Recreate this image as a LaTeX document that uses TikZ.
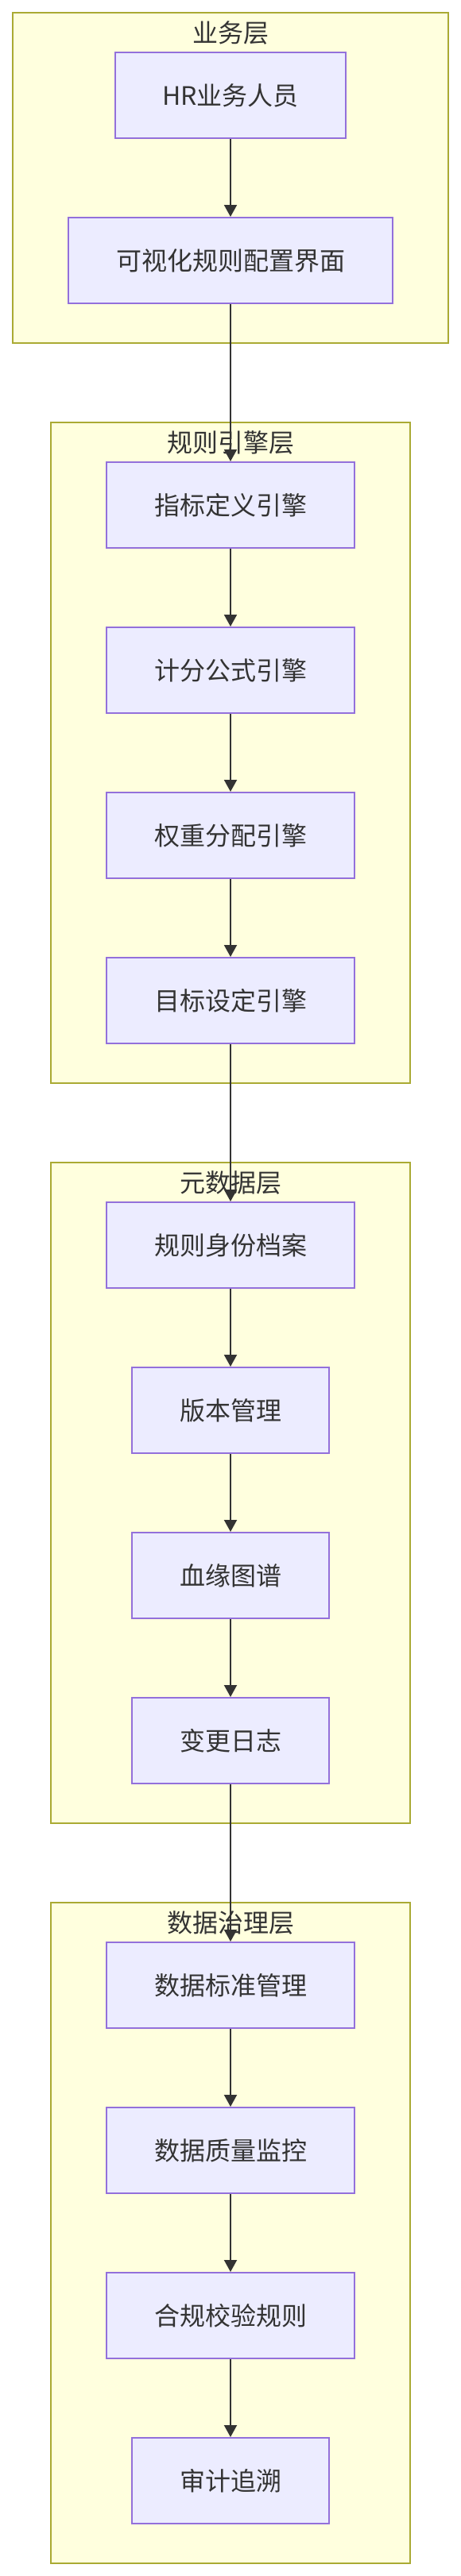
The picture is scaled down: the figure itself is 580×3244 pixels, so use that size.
\documentclass[tikz,border=0pt]{standalone}
\usepackage{fontspec}
\setmainfont{Noto Sans CJK SC}
\usetikzlibrary{arrows.meta}
\definecolor{nodefill}{HTML}{ECECFF}
\definecolor{nodeline}{HTML}{9370DB}
\definecolor{layerfill}{HTML}{FFFFDE}
\definecolor{layerline}{HTML}{AAAA33}
\definecolor{ink}{HTML}{333333}
\tikzset{
  layerbox/.style={draw=layerline, fill=layerfill, line width=2pt, inner sep=0pt, outer sep=0pt},
  stepbox/.style={draw=nodeline, fill=nodefill, line width=2pt, inner sep=0pt, outer sep=1pt,
    minimum height=108pt, text=ink, font=\fontsize{32pt}{38pt}\selectfont},
  layertitle/.style={text=ink, inner sep=0pt, font=\fontsize{32pt}{38pt}\selectfont},
  flow/.style={draw=ink, line width=2pt, -{Triangle[length=15pt,width=16pt]}},
}
\begin{document}
\begin{tikzpicture}[x=1pt,y=-1pt]
\useasboundingbox (0,0) rectangle (580,3244);
% layers
\node[layerbox, minimum width=548pt, minimum height=416pt] (L1) at (290,224) {};
\node[layerbox, minimum width=452pt, minimum height=832pt] (L2) at (290,948) {};
\node[layerbox, minimum width=452pt, minimum height=832pt] (L3) at (290,1880) {};
\node[layerbox, minimum width=452pt, minimum height=832pt] (L4) at (290,2812) {};
% titles
\node[layertitle] (T1) at (290,41) {业务层};
\node[layertitle] (T2) at (290,557) {规则引擎层};
\node[layertitle] (T3) at (290,1489) {元数据层};
\node[layertitle] (T4) at (290,2421) {数据治理层};
% business layer
\node[stepbox, minimum width=290pt] (a1) at (290,120) {HR业务人员};
\node[stepbox, minimum width=408pt] (a2) at (290,328) {可视化规则配置界面};
% rule engine layer
\node[stepbox, minimum width=312pt] (b1) at (290,636) {指标定义引擎};
\node[stepbox, minimum width=312pt] (b2) at (290,844) {计分公式引擎};
\node[stepbox, minimum width=312pt] (b3) at (290,1052) {权重分配引擎};
\node[stepbox, minimum width=312pt] (b4) at (290,1260) {目标设定引擎};
% metadata layer
\node[stepbox, minimum width=312pt] (c1) at (290,1568) {规则身份档案};
\node[stepbox, minimum width=248pt] (c2) at (290,1776) {版本管理};
\node[stepbox, minimum width=248pt] (c3) at (290,1984) {血缘图谱};
\node[stepbox, minimum width=248pt] (c4) at (290,2192) {变更日志};
% governance layer
\node[stepbox, minimum width=312pt] (d1) at (290,2500) {数据标准管理};
\node[stepbox, minimum width=312pt] (d2) at (290,2708) {数据质量监控};
\node[stepbox, minimum width=312pt] (d3) at (290,2916) {合规校验规则};
\node[stepbox, minimum width=248pt] (d4) at (290,3124) {审计追溯};
% connectors
\draw[flow] (a1) -- (a2);
\draw[flow] (a2) -- (b1);
\draw[flow] (b1) -- (b2);
\draw[flow] (b2) -- (b3);
\draw[flow] (b3) -- (b4);
\draw[flow] (b4) -- (c1);
\draw[flow] (c1) -- (c2);
\draw[flow] (c2) -- (c3);
\draw[flow] (c3) -- (c4);
\draw[flow] (c4) -- (d1);
\draw[flow] (d1) -- (d2);
\draw[flow] (d2) -- (d3);
\draw[flow] (d3) -- (d4);
\end{tikzpicture}
\end{document}
